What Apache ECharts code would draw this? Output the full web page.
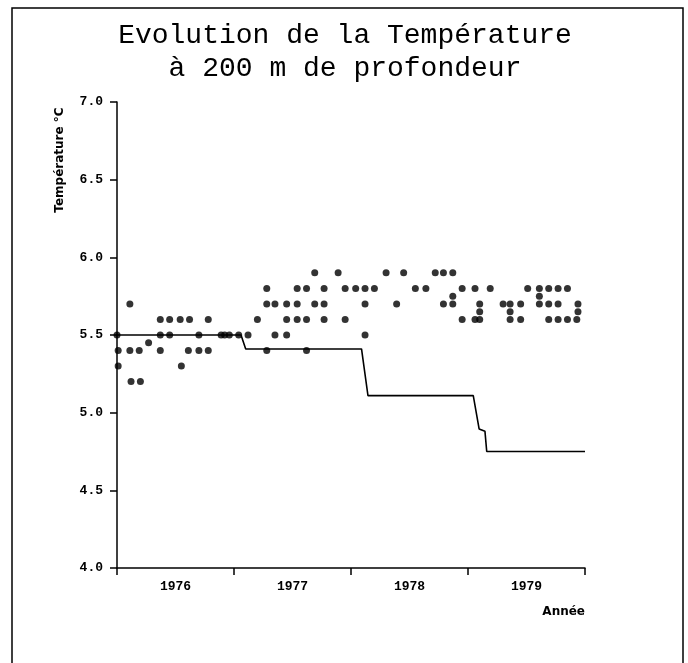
<!DOCTYPE html>
<html><head><meta charset="utf-8">
<script src="https://cdn.jsdelivr.net/npm/echarts@6/dist/echarts.min.js"></script>
<style>html,body{margin:0;padding:0;background:#fff}#c{width:688px;height:663px}</style>
</head><body><div id="c"></div>
<script>
// ---- Text ----
const titleText = 'Evolution de la Température\nà 200 m de profondeur';
const yAxisTitle = 'Température °C';
const xAxisTitle = 'Année';
const yearLabels = ['1976', '1977', '1978', '1979'];
const yMin = 4.0, yMax = 7.0, yStep = 0.5;
const xMin = 1976, xMax = 1980, xStep = 1;

// ---- Observations (decimal year, temperature °C) ----
const obsYear = [
  1976.00, 1976.01, 1976.01,
  1976.11, 1976.11, 1976.12, 1976.19, 1976.20, 1976.27,
  1976.37, 1976.37, 1976.37, 1976.45, 1976.45,
  1976.54, 1976.55, 1976.61, 1976.62, 1976.70, 1976.70, 1976.78, 1976.78,
  1976.89, 1976.92, 1976.96, 1977.04, 1977.12,
  1977.20, 1977.28, 1977.28, 1977.28, 1977.35, 1977.35,
  1977.45, 1977.45, 1977.45, 1977.54, 1977.54, 1977.54,
  1977.62, 1977.62, 1977.62, 1977.69, 1977.69,
  1977.77, 1977.77, 1977.77, 1977.89, 1977.95, 1977.95,
  1978.04, 1978.12, 1978.12, 1978.12, 1978.20, 1978.30, 1978.39, 1978.45,
  1978.55, 1978.64, 1978.72, 1978.79, 1978.79,
  1978.87, 1978.87, 1978.87, 1978.95, 1978.95,
  1979.06, 1979.06, 1979.10, 1979.10, 1979.10, 1979.19, 1979.30,
  1979.36, 1979.36, 1979.36, 1979.45, 1979.45, 1979.51,
  1979.61, 1979.61, 1979.61, 1979.69, 1979.69, 1979.69,
  1979.77, 1979.77, 1979.77, 1979.85, 1979.85, 1979.93, 1979.94, 1979.94
];
const obsTemp = [
  5.5, 5.4, 5.3,
  5.7, 5.4, 5.2, 5.4, 5.2, 5.45,
  5.6, 5.5, 5.4, 5.6, 5.5,
  5.6, 5.3, 5.4, 5.6, 5.5, 5.4, 5.6, 5.4,
  5.5, 5.5, 5.5, 5.5, 5.5,
  5.6, 5.8, 5.7, 5.4, 5.7, 5.5,
  5.7, 5.6, 5.5, 5.8, 5.7, 5.6,
  5.8, 5.6, 5.4, 5.9, 5.7,
  5.8, 5.7, 5.6, 5.9, 5.8, 5.6,
  5.8, 5.8, 5.7, 5.5, 5.8, 5.9, 5.7, 5.9,
  5.8, 5.8, 5.9, 5.9, 5.7,
  5.9, 5.75, 5.7, 5.8, 5.6,
  5.8, 5.6, 5.7, 5.65, 5.6, 5.8, 5.7,
  5.7, 5.65, 5.6, 5.7, 5.6, 5.8,
  5.8, 5.75, 5.7, 5.8, 5.7, 5.6,
  5.8, 5.7, 5.6, 5.8, 5.6, 5.6, 5.7, 5.65
];

// ---- Mean curve (decimal year, temperature °C) ----
const meanYear = [1976.00, 1977.06, 1977.10, 1978.09, 1978.145, 1979.045, 1979.095, 1979.145, 1979.16, 1980.00];
const meanTemp = [5.5, 5.5, 5.41, 5.41, 5.11, 5.11, 4.895, 4.88, 4.75, 4.75];

const obsData = obsYear.map((x, i) => [x, obsTemp[i]]);
const meanData = meanYear.map((x, i) => [x, meanTemp[i]]);

const mono = '"Liberation Mono", "DejaVu Sans Mono", monospace';
const chart = echarts.init(document.getElementById('c'), null, {renderer: 'canvas'});
chart.setOption({
  backgroundColor: '#fff',
  animation: false,
  title: {
    text: titleText,
    left: 340,
    top: 14,
    textAlign: 'center',
    textStyle: {fontFamily: mono, fontSize: 28, fontWeight: 'normal', color: '#000', lineHeight: 33}
  },
  grid: {left: 117, right: 103, top: 102, bottom: 95},
  xAxis: [
    {
      type: 'value', min: xMin, max: xMax, interval: xStep, position: 'bottom',
      axisLine: {lineStyle: {color: '#000', width: 1.5}},
      axisTick: {show: true, length: 7, lineStyle: {color: '#000', width: 1.5}},
      axisLabel: {show: false},
      splitLine: {show: false}
    },
    {
      type: 'category', data: yearLabels, boundaryGap: true, position: 'bottom',
      axisLine: {show: false}, axisTick: {show: false},
      axisLabel: {margin: 12, fontFamily: mono, fontWeight: 'bold', fontSize: 13, color: '#000'},
      splitLine: {show: false}
    }
  ],
  yAxis: {
    type: 'value', min: yMin, max: yMax, interval: yStep,
    axisLine: {show: true, lineStyle: {color: '#000', width: 1.5}},
    axisTick: {show: true, length: 7, lineStyle: {color: '#000', width: 1.5}},
    axisLabel: {margin: 14, fontFamily: mono, fontWeight: 'bold', fontSize: 13, color: '#000',
      formatter: v => v.toFixed(1)},
    splitLine: {show: false}
  },
  graphic: [
    {type: 'rect', shape: {x: 12, y: 8, width: 671, height: 700}, silent: true,
      style: {fill: 'none', stroke: '#000', lineWidth: 1.5}},
    {type: 'text', x: 60, y: 160, rotation: Math.PI / 2,
      style: {text: yAxisTitle, fontFamily: '"DejaVu Sans", sans-serif', fontWeight: 'bold', fontSize: 12,
        fill: '#000', align: 'center', verticalAlign: 'middle'}},
    {type: 'text', x: 585, y: 612,
      style: {text: xAxisTitle, fontFamily: '"DejaVu Sans", sans-serif', fontWeight: 'bold', fontSize: 12,
        fill: '#000', align: 'right', verticalAlign: 'middle'}}
  ],
  series: [
    {
      type: 'line', xAxisIndex: 0, data: meanData, showSymbol: false, symbol: 'none',
      lineStyle: {color: '#000', width: 1.6}, z: 2
    },
    {
      type: 'scatter', xAxisIndex: 0, data: obsData, symbol: 'circle', symbolSize: 7,
      itemStyle: {color: '#000'}, z: 3
    }
  ]
});
</script>
</body></html>
